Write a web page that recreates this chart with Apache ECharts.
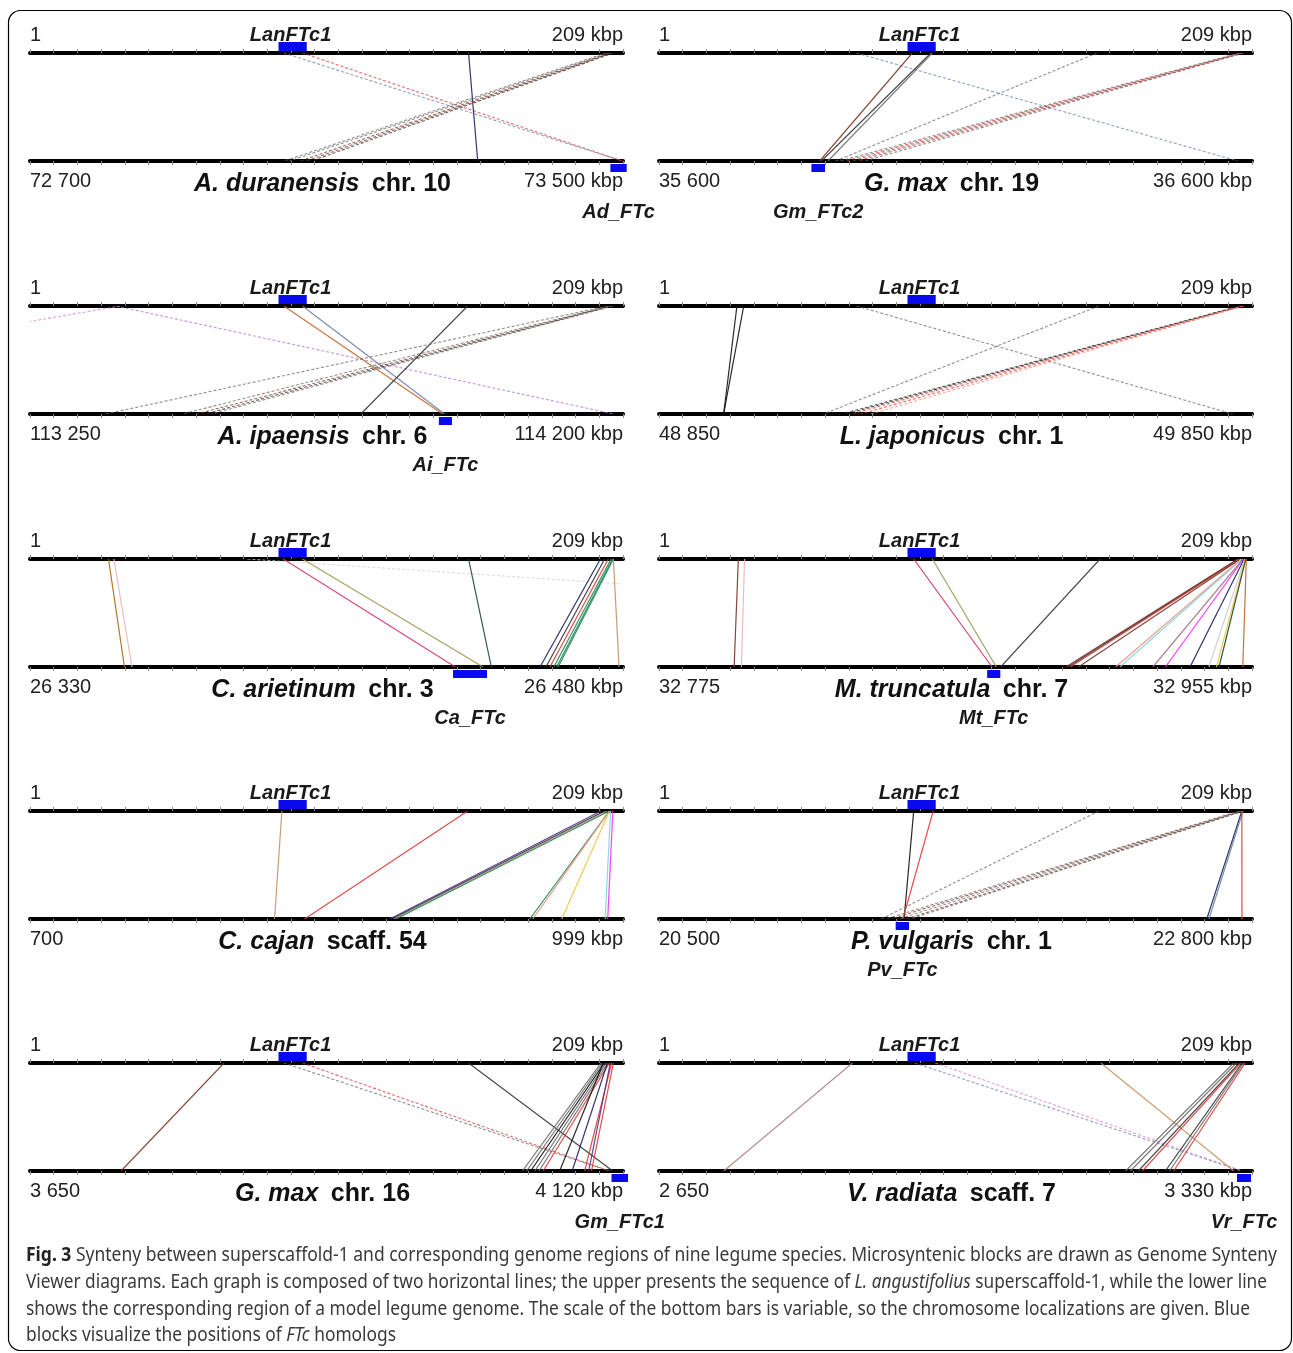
<!DOCTYPE html>
<html><head><meta charset="utf-8">
<script src="https://cdn.jsdelivr.net/npm/echarts/dist/echarts.min.js"></script>
<style>html,body{margin:0;padding:0;background:#fff}#c{width:1293px;height:1353px}</style>
</head><body><div id="c"></div>
<script>
// ---------------- DATA ----------------
const speciesNames = ['A. duranensis','G. max','A. ipaensis','L. japonicus','C. arietinum','M. truncatula','C. cajan','P. vulgaris','G. max','V. radiata'];
const regionNames  = ['chr. 10','chr. 19','chr. 6','chr. 1','chr. 3','chr. 7','scaff. 54','chr. 1','chr. 16','scaff. 7'];
const bottomStart  = [72700,35600,113250,48850,26330,32775,700,20500,3650,2650];
const bottomEnd    = [73500,36600,114200,49850,26480,32955,999,22800,4120,3330];
const bottomStartLabels = ['72 700','35 600','113 250','48 850','26 330','32 775','700','20 500','3 650','2 650'];
const bottomEndLabels   = ['73 500 kbp','36 600 kbp','114 200 kbp','49 850 kbp','26 480 kbp','32 955 kbp','999 kbp','22 800 kbp','4 120 kbp','3 330 kbp'];
const topStartLabel = '1';
const topEndLabel = '209 kbp';
const topGene = ['LanFTc1', 88, 98];          // kbp on superscaffold-1
const bottomGenes = [
  ['Ad_FTc', 73483, 73505], ['Gm_FTc2', 35857, 35880], ['Ai_FTc', 113905, 113926], null,
  ['Ca_FTc', 26437, 26445.6], ['Mt_FTc', 32874.6, 32878.6], null, ['Pv_FTc', 21418, 21470],
  ['Gm_FTc1', 4110.9, 4124], ['Vr_FTc', 3312.8, 3328.9]
];
// links: [top kbp, bottom kbp, colour key, dotted(1)/solid(0)]
const linksAdur = [[89.9,73499,'slate',1],[96.5,73499,'red',1],[155.3,73304,'navy',0],[204.0,73043,'gray',1],[205.0,73050,'gray',1],[205.5,73065,'brown',1],[206.0,73073,'brown',1],[206.5,73080,'dark',1]];
const linksGmax19 = [[69.9,36576,'slate',1],[89.7,35871,'brown',0],[96.3,35874,'dark',0],[96.8,35885,'gray',0],[155.1,35898,'gray',1],[205.5,35905,'gray',1],[206.0,35915,'red',1],[206.4,35925,'gray',1],[206.8,35935,'red',1],[207.0,35947,'gray',1]];
const linksAipa = [[31.9,112390,'pink',1],[30.5,114185,'violet',1],[89.9,113911,'orange',0],[96.5,113914,'slate',0],[155.0,113780,'dark',0],[204.5,113371,'gray',1],[205.0,113494,'gray',1],[205.5,113517,'brown',1],[206.0,113530,'dark',1],[206.5,113540,'gray',1]];
const linksLjap = [[27.6,48959,'black',0],[30.0,48959,'black',0],[69.9,49818,'gray',1],[155.8,49127,'gray',1],[205.5,49158,'dark',1],[206.0,49165,'black',1],[206.4,49175,'red',1],[206.8,49190,'red',1],[207.0,49207,'salmon',1]];
const linksCari = [[27.8,26353.9,'amber',0],[29.7,26355.8,'lpink',0],[77,26796,'faint',1],[89.7,26437.6,'crimson',0],[96.5,26444.6,'olive',0],[155.3,26446.7,'teal',0],[202.0,26459,'navy',0],[203.5,26460.5,'dark',0],[204.8,26461.5,'red',0],[205.8,26462.5,'green',0],[206.3,26463.2,'green',0],[206.6,26463.6,'green',0],[206.6,26479,'tan',0]];
const linksMtru = [[28.1,32797.8,'brown',0],[30.3,32800,'lpink',0],[90.2,32876.1,'crimson',0],[96.8,32877.4,'olive',0],[156.2,32878.7,'dark',0],[205.0,32898.5,'brown',0],[205.3,32899.2,'dark',0],[205.6,32899.8,'red',0],[205.9,32902.3,'brown',0],[206.2,32913.6,'salmon',0],[206.5,32914.9,'cyan',0],[206.8,32924.9,'mauve',0],[207.0,32928.7,'magenta',0],[207.2,32936.2,'navy',0],[207.4,32941.9,'lgray',0],[207.6,32944.2,'yellow',0],[207.8,32945,'dgreen',0],[208.0,32952.2,'orange',0]];
const linksCcaj = [[89.2,823.3,'tan',0],[155.0,838.5,'red',0],[202.2,881.4,'purple',0],[203.5,882.5,'navy',0],[204.3,883.5,'tan',0],[205.2,884.5,'green',0],[205.2,952,'green',0],[205.2,953.5,'salmon',0],[205.2,968.1,'yellow',0],[205.6,990,'cyan',0],[206.4,991.3,'magenta',0]];
const linksPvul = [[90.2,21450.7,'black',0],[97.1,21446,'red',0],[155.8,21362,'gray',1],[205.5,21378,'gray',1],[206.0,21400,'brown',1],[206.4,21430,'gray',1],[206.8,21460,'brown',1],[207.0,21475,'gray',1],[206.4,22624.7,'navy',0],[206.8,22633,'slate',0],[206.4,22761,'red',0]];
const linksGmax16 = [[68.7,3722.2,'brown',0],[89.9,4109.3,'gray',1],[96.5,4109.3,'red',1],[155.3,4111.9,'dark',0],[202.2,4040.3,'gray',0],[202.8,4043.6,'gray',0],[203.4,4046.8,'black',0],[204.0,4050.1,'gray',0],[204.6,4053.4,'gray',0],[205.2,4056.7,'red',0],[203.0,4069.8,'black',0],[204.5,4079.7,'navy',0],[206.0,4089.6,'red',0],[205.5,4092.8,'purple',0],[206.6,4095,'red',0]];
const linksVrad = [[68.5,2724.3,'rosy',0],[90.5,3318.5,'slate',1],[97.8,3318.5,'pink',1],[156.5,3309,'tan',0],[203.5,3185,'gray',0],[204.5,3190.5,'gray',0],[205.5,3199.7,'dark',0],[206.0,3204.4,'red',0],[206.5,3230.6,'dark',0],[207.0,3235.4,'gray',0],[207.6,3240.1,'red',0]];
const panelLinks = [linksAdur,linksGmax19,linksAipa,linksLjap,linksCari,linksMtru,linksCcaj,linksPvul,linksGmax16,linksVrad];
const captionLines = [
  [['b','Fig. 3'],['n',' Synteny between superscaffold-1 and corresponding genome regions of nine legume species. Microsyntenic blocks are drawn as Genome Synteny']],
  [['n','Viewer diagrams. Each graph is composed of two horizontal lines; the upper presents the sequence of '],['i','L. angustifolius'],['n',' superscaffold-1, while the lower line']],
  [['n','shows the corresponding region of a model legume genome. The scale of the bottom bars is variable, so the chromosome localizations are given. Blue']],
  [['n','blocks visualize the positions of '],['i','FTc'],['n',' homologs']]
];

// ---------------- STYLE / LAYOUT ----------------
const PAL = {slate:'#6f7fa8',red:'#e03838',navy:'#1a2258',gray:'#6a6a6a',brown:'#7a3322',dark:'#333333',pink:'#e07ac8',violet:'#b070d8',orange:'#c0642a',black:'#111111',salmon:'#f0907a',amber:'#a86a10',lpink:'#f0b4b4',faint:'#cfcfcf',crimson:'#d03a6a',olive:'#9a9a58',teal:'#1d4444',green:'#1f8a55',tan:'#c29262',cyan:'#80d4e6',mauve:'#a07080',magenta:'#ff2cff',lgray:'#cccccc',yellow:'#f2c440',dgreen:'#0f4a2a',purple:'#54307e',rosy:'#b07e7e'};
const COLX = [30, 659], PW = 593, ROWY = [53, 306, 559, 811, 1063], PH = 108;
const TOPMAX = 210, NT = 25;
const FF = '"Liberation Sans", Arial, sans-serif';

const grids = [], xAxes = [], yAxes = [], series = [], graphics = [];
for (let i = 0; i < 10; i++) {
  const r = Math.floor(i / 2), c = i % 2;
  const x0 = COLX[c], y0 = ROWY[r], y1 = y0 + PH;
  grids.push({left: x0, top: y0, width: PW, height: PH, outerBoundsMode: 'none'});
  const axBase = {gridIndex: i, type: 'value', axisLabel: {show: false}, splitLine: {show: false},
    axisLine: {show: true, onZero: false, lineStyle: {color: '#000', width: 4}},
    axisTick: {show: true, length: 4, lineStyle: {color: '#8a8a8a', width: 1}}};
  xAxes.push(Object.assign({}, axBase, {position: 'top', min: 0, max: TOPMAX, interval: TOPMAX / NT}));
  xAxes.push(Object.assign({}, axBase, {position: 'bottom', min: bottomStart[i], max: bottomEnd[i], interval: (bottomEnd[i] - bottomStart[i]) / NT}));
  yAxes.push({gridIndex: i, type: 'value', min: 0, max: 1, show: false});

  const links = panelLinks[i];
  series.push({
    type: 'custom', xAxisIndex: 2 * i, yAxisIndex: i, clip: true, silent: true, z: 1,
    data: links.map(l => [l[0], 0.5]), encode: {x: 0, y: 1},
    renderItem: (params, api) => {
      const L = links[params.dataIndex];
      const frac = (L[1] - bottomStart[i]) / (bottomEnd[i] - bottomStart[i]);
      const p0 = api.coord([L[0], 1]);
      const p1 = api.coord([frac * TOPMAX, 0]);
      return {type: 'line', shape: {x1: p0[0], y1: p0[1], x2: p1[0], y2: p1[1]},
        style: {stroke: PAL[L[2]], lineWidth: L[3] ? 1.1 : 1.2, lineDash: L[3] ? [3, 2] : null, opacity: L[3] ? 0.75 : 0.9}};
    }
  });
  // top gene block + label
  series.push({
    type: 'custom', xAxisIndex: 2 * i, yAxisIndex: i, clip: false, silent: true, z: 5,
    data: [[topGene[1], topGene[2], 1]], encode: {x: [0, 1], y: 2},
    renderItem: (params, api) => {
      const a = api.coord([api.value(0), 1]), b = api.coord([api.value(1), 1]);
      return {type: 'group', children: [
        {type: 'rect', shape: {x: a[0], y: a[1] - 11, width: b[0] - a[0], height: 9}, style: {fill: '#0a0aef'}},
        {type: 'text', style: {text: topGene[0], x: (a[0] + b[0]) / 2 - 2, y: a[1] - 18, align: 'center', verticalAlign: 'middle',
          font: 'italic bold 20px ' + FF, fill: '#1a1a1a'}}
      ]};
    }
  });
  if (bottomGenes[i]) {
    const g = bottomGenes[i];
    series.push({
      type: 'custom', xAxisIndex: 2 * i + 1, yAxisIndex: i, clip: false, silent: true, z: 5,
      data: [[g[1], g[2], 0]], encode: {x: [0, 1], y: 2},
      renderItem: (params, api) => {
        const a = api.coord([api.value(0), 0]), b = api.coord([api.value(1), 0]);
        return {type: 'group', children: [
          {type: 'rect', shape: {x: a[0], y: a[1] + 3, width: b[0] - a[0], height: 8}, style: {fill: '#0a0aef'}},
          {type: 'text', style: {text: g[0], x: (a[0] + b[0]) / 2, y: a[1] + 51, align: 'center', verticalAlign: 'middle',
            font: 'italic bold 20px ' + FF, fill: '#1a1a1a'}}
        ]};
      }
    });
  }
  // scale labels & title
  const lab = (t, x, y, align) => ({type: 'text', x: x, y: y, silent: true,
    style: {text: t, align: align, verticalAlign: 'middle', font: '20px ' + FF, fill: '#222'}});
  graphics.push(lab(topStartLabel, x0, y0 - 18, 'left'));
  graphics.push(lab(topEndLabel, x0 + PW, y0 - 18, 'right'));
  graphics.push(lab(bottomStartLabels[i], x0, y1 + 20, 'left'));
  graphics.push(lab(bottomEndLabels[i], x0 + PW, y1 + 20, 'right'));
  graphics.push({type: 'text', x: x0 + PW / 2 - 4, y: y1 + 23, silent: true,
    style: {text: '{s|' + speciesNames[i] + '}{c|\u2002' + regionNames[i] + '}', align: 'center', verticalAlign: 'middle',
      rich: {s: {fontStyle: 'italic', fontWeight: 'bold', fontSize: 25, fontFamily: FF, fill: '#111'},
             c: {fontWeight: 'bold', fontSize: 25, fontFamily: FF, fill: '#111'}}}});
}

// frame
graphics.push({type: 'rect', silent: true, shape: {x: 8.5, y: 10.5, width: 1283, height: 1340, r: 12},
  style: {fill: 'none', stroke: '#000', lineWidth: 1.2}, z: -1});

// caption
const CF = '"Noto Sans", "Open Sans", sans-serif', CS = 19;
const cv = document.createElement('canvas').getContext('2d');
const segFont = k => (k === 'b' ? 'bold ' : k === 'i' ? 'italic ' : '') + CS + 'px ' + CF;
const lineW = segs => segs.reduce((s, sg) => { cv.font = segFont(sg[0]); return s + cv.measureText(sg[1]).width; }, 0);
const CAPW = [1251, 1241, 1224, 370];
const CAPY = [1256, 1283, 1310, 1336];
captionLines.forEach((segs, k) => {
  graphics.push({type: 'text', x: 26, y: CAPY[k], scaleX: CAPW[k] / lineW(segs), silent: true,
    style: {text: segs.map(sg => '{' + sg[0] + '|' + sg[1].replace(/[{}|]/g, '') + '}').join(''), x: 0, y: 0, verticalAlign: 'middle',
      rich: {b: {fontWeight: 'bold', fontSize: CS, fontFamily: CF, fill: '#222'},
             i: {fontStyle: 'italic', fontSize: CS, fontFamily: CF, fill: '#3a3a3a'},
             n: {fontSize: CS, fontFamily: CF, fill: '#3a3a3a'}}}});
});

const chart = echarts.init(document.getElementById('c'), null, {renderer: 'canvas'});
chart.setOption({animation: false, backgroundColor: '#fff', grid: grids, xAxis: xAxes, yAxis: yAxes, series: series, graphic: graphics});
</script></body></html>
